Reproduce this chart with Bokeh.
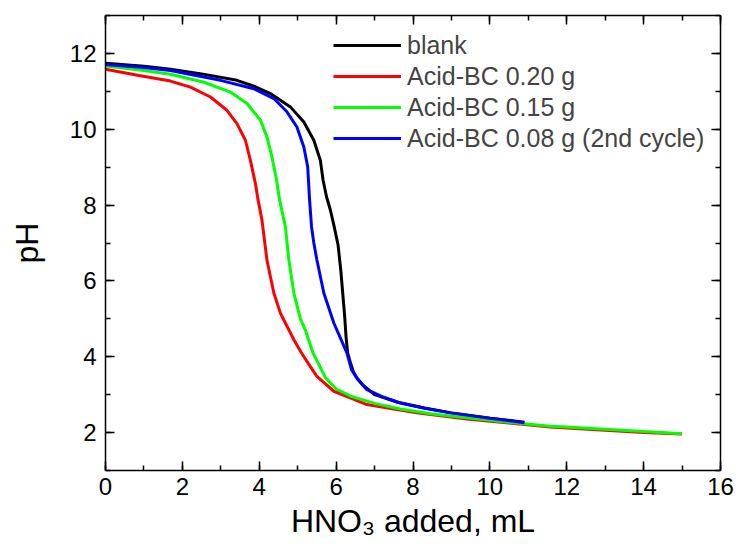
from bokeh.plotting import figure
from bokeh.models import (LinearAxis, SingleIntervalTicker, Legend, LegendItem, Range1d,
                          CustomLabelingPolicy)
from bokeh.embed import file_html
from bokeh.resources import INLINE

# ---- data ----
blank_x = [0, 1, 1.69, 2.5, 3.42, 3.9, 4.29, 4.81, 5.16, 5.42, 5.59, 5.66, 5.75, 5.85, 5.95,
           6.05, 6.12, 6.17, 6.22, 6.26, 6.3, 6.37, 6.45, 6.55, 6.7, 7.0, 7.6, 8.3, 9.0, 10.0, 10.9]
blank_y = [11.74, 11.66, 11.58, 11.46, 11.29, 11.12, 10.94, 10.59, 10.19, 9.71, 9.18, 8.66, 8.22,
           7.87, 7.43, 6.95, 6.3, 5.7, 5.1, 4.5, 4.1, 3.85, 3.6, 3.42, 3.25, 3.0, 2.8, 2.65, 2.52,
           2.38, 2.27]

bc020_x = [0, 0.87, 1.69, 2.21, 2.73, 3.16, 3.42, 3.64, 3.77, 3.9, 3.97, 4.07, 4.2, 4.29, 4.38,
           4.55, 4.64, 4.9, 5.1, 5.33, 5.5, 5.94, 6.4, 6.8, 7.5, 8.1, 9.4, 10.5, 11.57, 13.0,
           14.0, 15.0]
bc020_y = [11.58, 11.42, 11.27, 11.11, 10.85, 10.5, 10.15, 9.71, 9.18, 8.57, 8.13, 7.61, 6.55,
           6.11, 5.68, 5.15, 4.97, 4.45, 4.1, 3.74, 3.48, 3.09, 2.9, 2.74, 2.62, 2.52, 2.36, 2.25,
           2.15, 2.06, 2.0, 1.96]

bc015_x = [0, 0.9, 1.69, 2.56, 3.25, 3.68, 4.03, 4.2, 4.33, 4.45, 4.53, 4.6, 4.68, 4.77, 4.9,
           5.07, 5.2, 5.4, 5.55, 5.72, 6.0, 6.4, 7.0, 7.67, 8.5, 9.4, 10.5, 11.57, 12.0, 13.0,
           14.0, 15.0]
bc015_y = [11.67, 11.56, 11.45, 11.24, 10.98, 10.68, 10.24, 9.8, 9.27, 8.66, 8.13, 7.8, 7.43,
           6.55, 5.68, 5.0, 4.7, 4.1, 3.8, 3.45, 3.15, 2.95, 2.77, 2.62, 2.49, 2.39, 2.27, 2.17,
           2.15, 2.09, 2.03, 1.97]

bc008_x = [0, 1, 1.69, 2.99, 3.86, 4.38, 4.72, 4.98, 5.16, 5.26, 5.31, 5.36, 5.42, 5.5, 5.68,
           5.94, 6.28, 6.4, 6.54, 6.8, 7.2, 7.67, 8.3, 8.97, 10.0, 10.9]
bc008_y = [11.71, 11.63, 11.55, 11.29, 11.07, 10.81, 10.46, 10.06, 9.53, 9.01, 8.13, 7.43, 7.0,
           6.55, 5.68, 4.89, 4.1, 3.66, 3.44, 3.13, 2.95, 2.78, 2.64, 2.52, 2.38, 2.26]

labels = ["blank", "Acid-BC 0.20 g", "Acid-BC 0.15 g", "Acid-BC 0.08 g (2nd cycle)"]
colors = ["#000000", "#ff0000", "#00ff00", "#0000ff"]

FONT = "Liberation Sans"

p = figure(width=737, height=551, x_range=Range1d(0, 16), y_range=Range1d(1, 13),
           output_backend="svg", toolbar_location=None,
           min_border_left=105, min_border_right=17, min_border_top=15, min_border_bottom=81,
           x_axis_label="HNO\u2083 added, mL", y_axis_label="pH")
p.grid.visible = False
p.outline_line_color = None
p.background_fill_color = "white"
p.border_fill_color = "white"

series = [(blank_x, blank_y), (bc020_x, bc020_y), (bc015_x, bc015_y), (bc008_x, bc008_y)]
renderers = []
for (xs, ys), c in zip(series, colors):
    renderers.append(p.line(xs, ys, line_color=c, line_width=3))

HIDE = """
for (const i of Array.from(indices)) indices.unset(i);
return indices;
"""
p.add_layout(LinearAxis(major_label_policy=CustomLabelingPolicy(code=HIDE)), "above")
p.add_layout(LinearAxis(major_label_policy=CustomLabelingPolicy(code=HIDE)), "right")

for ax in p.xaxis:
    ax.ticker = SingleIntervalTicker(interval=2, num_minor_ticks=2)
for ax in p.yaxis:
    ax.ticker = SingleIntervalTicker(interval=2, num_minor_ticks=2)

for ax in p.axis:
    ax.axis_line_width = 1.5
    ax.axis_line_color = "black"
    ax.major_tick_line_width = 1.5
    ax.minor_tick_line_width = 1.5
    ax.major_tick_line_color = "black"
    ax.minor_tick_line_color = "black"
    ax.major_tick_in = 9
    ax.major_tick_out = 0
    ax.minor_tick_in = 5
    ax.minor_tick_out = 0
    ax.major_label_text_font = FONT
    ax.major_label_text_font_size = "24px"
    ax.major_label_text_color = "black"
    ax.axis_label_text_font = FONT
    ax.axis_label_text_font_style = "normal"
    ax.axis_label_text_font_size = "32px"
    ax.axis_label_text_color = "black"

for ax in (p.above[0], p.right[0]):
    ax.major_label_text_font_size = "0px"
    ax.major_label_standoff = 0

p.below[0].major_label_standoff = 7
p.below[0].axis_label_standoff = 5
p.left[0].major_label_standoff = 9
p.left[0].axis_label_standoff = 22

legend = Legend(items=[LegendItem(label=l, renderers=[r]) for l, r in zip(labels, renderers)],
                location=(228, 317), label_text_font=FONT, label_text_font_size="25px",
                glyph_width=68, glyph_height=30, label_height=30, label_standoff=6,
                spacing=1, padding=0, margin=0, border_line_color=None,
                background_fill_alpha=0)
p.add_layout(legend)

open("out.html", "w").write(file_html(p, INLINE))
